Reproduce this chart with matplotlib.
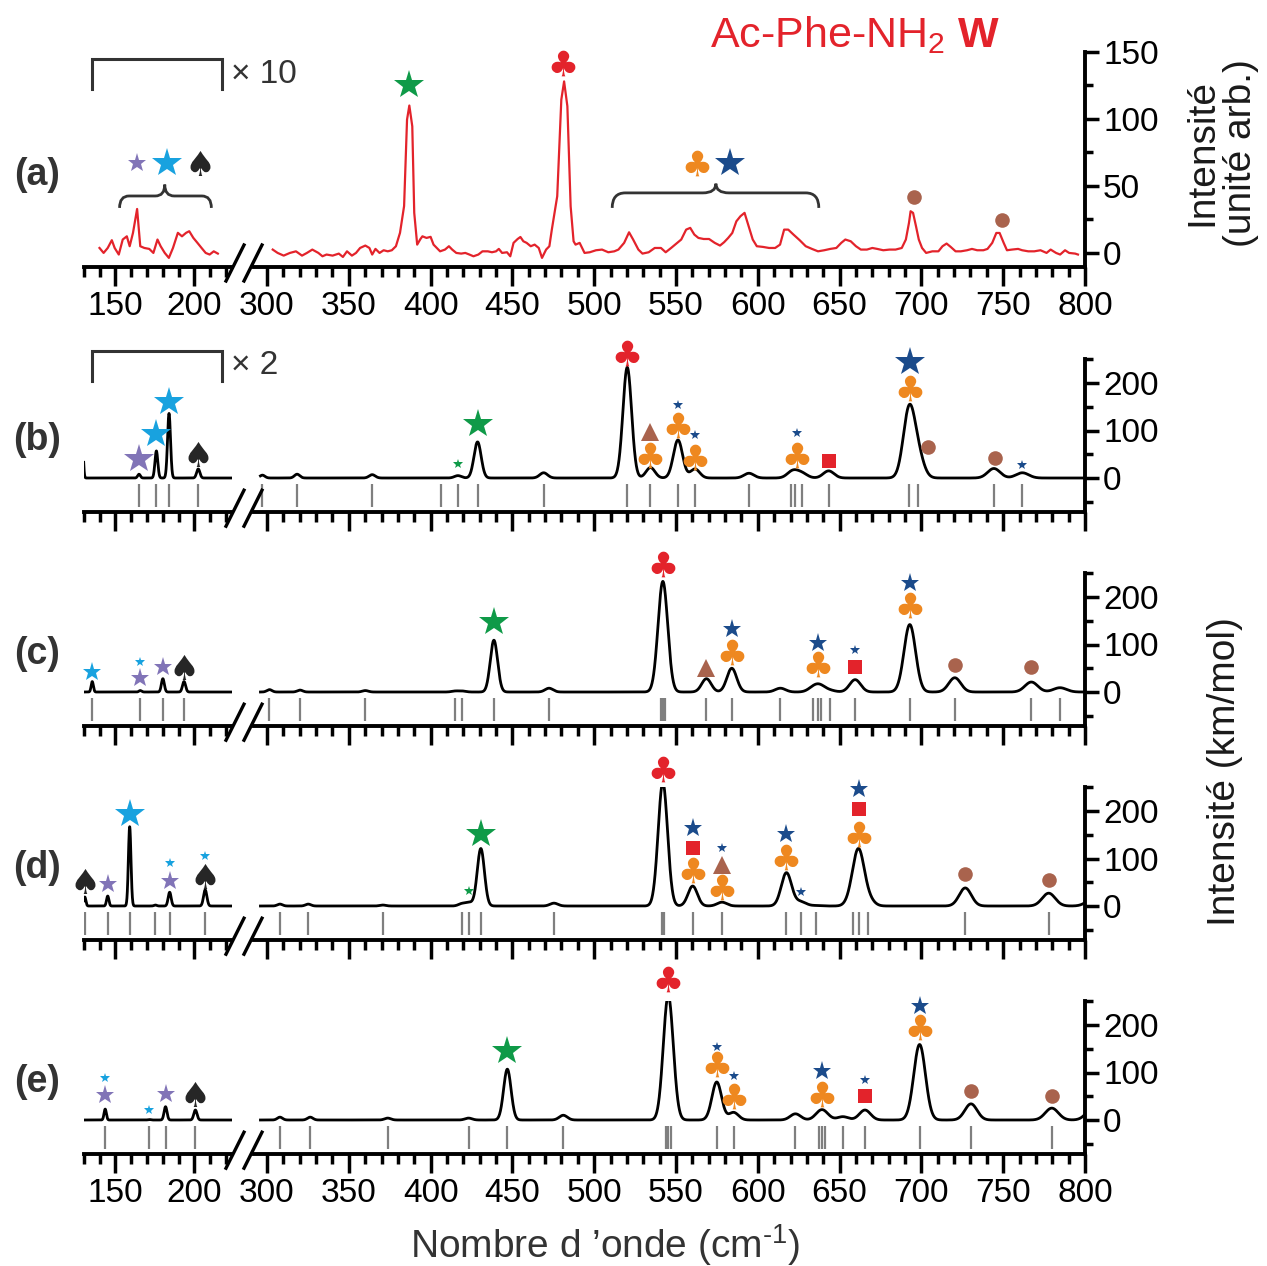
import numpy as np
import matplotlib
matplotlib.use("Agg")
import matplotlib.pyplot as plt
from matplotlib.textpath import TextPath
from matplotlib.font_manager import FontProperties
from matplotlib.path import Path
from matplotlib.patches import PathPatch
from matplotlib.lines import Line2D
from matplotlib.ticker import MultipleLocator

plt.rcParams['font.family'] = ['Liberation Sans', 'DejaVu Sans']
plt.rcParams['mathtext.fontset'] = 'custom'
plt.rcParams['mathtext.rm'] = 'Liberation Sans'
plt.rcParams['mathtext.it'] = 'Liberation Sans:italic'
plt.rcParams['mathtext.bf'] = 'Liberation Sans:bold'
plt.rcParams['mathtext.sf'] = 'Liberation Sans'
plt.rcParams['mathtext.default'] = 'regular'

# ---------------- data ----------------
# (a) experimental IR-UV spectrum (left part shown x10)
exp_left_x = [140.0, 142.6, 145.2, 147.8, 149.6, 152.2, 154.7, 157.3, 159.1, 161.2, 163.8,
              165.8, 168.4, 171.5, 174.1, 176.7, 178.7, 181.3, 183.9, 186.5, 189.6, 192.2,
              194.8, 196.8, 199.4, 202.0, 204.6, 207.2, 209.7, 212.3, 214.9]
exp_left_y = [3.7, 0, 3.7, 9.5, 3.7, -1.2, 10, 12.4, 5, 15, 32.8,
              5, 3.7, 3, 0, 10, 5, 0, -3.7, 3.7, 15, 12.4,
              15, 16.2, 11.2, 7.5, 3.7, 0, -1.2, 1.2, -0.5]
exp_right_x = [303.5, 306.5, 310.2, 314.0, 317.7, 321.4, 324.4, 327.7, 331.4, 333.9, 336.4,
               340.1, 343.9, 346.4, 348.9, 351.9, 354.4, 356.9, 360.1, 362.6, 364.3, 366.3,
               368.8, 371.3, 373.8, 376.3, 378.8, 381.3, 383.8, 385.6, 387.0, 388.8, 390.0,
               391.8, 393.8, 395.0, 397.5, 400.0, 401.8, 403.8, 405.8, 408.8, 411.2, 413.2,
               415.7, 418.7, 421.2, 423.7, 426.2, 429.2, 431.7, 435.0, 437.5, 440.0, 441.7,
               443.7, 446.7, 448.7, 450.7, 453.2, 454.9, 456.7, 458.7, 461.2, 463.6, 466.1,
               468.1, 470.6, 472.6, 474.1, 477.4, 479.9, 481.6, 483.6, 485.6, 487.4, 488.6,
               491.1, 494.1, 497.3, 501.1, 504.8, 508.6, 512.3, 514.8,
               518.3, 521.3, 523.8, 527.0, 529.5, 533.3, 537.0, 540.8, 543.7, 547.0, 550.7,
               553.2, 556.2, 558.7, 561.2, 563.7, 566.9, 570.2, 573.7, 576.9, 579.4, 581.9,
               584.4, 586.9, 589.4, 591.9, 594.4, 596.9, 599.4, 603.1, 606.9, 610.6, 613.6,
               616.1, 618.6, 621.8, 625.6, 629.3, 633.1, 636.8, 640.6, 644.3, 648.0, 651.0,
               653.5, 656.8, 660.0, 663.0, 666.7, 670.0, 673.0, 676.7, 680.5, 684.2, 688.0,
               690.5, 692.4, 693.4, 694.9, 696.7, 698.4, 700.4, 702.9, 706.7, 710.4, 712.9,
               715.4, 717.9, 720.9, 724.1, 727.9, 730.9, 734.1, 737.9, 740.4, 743.3, 745.8,
               747.8, 750.3, 752.3, 755.3, 759.1, 761.6, 765.3, 769.0, 772.8, 776.5, 779.0,
               782.3, 784.8, 787.8, 790.3, 794.0, 795.7]
exp_right_y = [2.5, 0, -2, 0, 1.2, -2, 0, 2.5, 0, -2.5, -1.2,
               -2, -0.5, -3, 1.2, -2, 0, 3.7, 5.5, 3.7, -1.2, 3,
               0, 2, 1.2, 2, 5, 15, 35, 99.5, 110, 94.5, 29.9,
               6.2, 10.4, 12.4, 11.2, 12, 6.2, 3.7, 1.2, 2.5, 5, 2.5,
               0, -0.5, 0, -1.2, -2.5, -1.2, 1.2, 1.2, 0.5, 1.2, 3,
               0, 0.5, -2.5, 7.5, 10.4, 11.9, 8.7, 7.5, 5, 6.2, 3.7,
               -3.7, 2.5, 5, 17.4, 42.3, 114.4, 128, 109.5, 34.8, 8.7, 6.2,
               7.5, 0, 0.5, 2, 2.5, 0.5, 1.2, 2.5,
               7.5, 15.4, 10, 2.5, -0.5, 0.5, 3.7, 3.7, 0.5, 3.7, 7.5,
               10, 17.4, 18.7, 13.7, 11.2, 10.4, 10.4, 7.5, 5.5, 8, 11.2,
               14.9, 23.6, 27.4, 29.9, 19.9, 10, 5, 4.5, 3.7, 3.7, 6.2,
               17.4, 17.4, 13.7, 9.5, 5, 3, 1.2, 2, 3, 3.7, 7.5,
               10, 8.7, 5, 2.5, 2.5, 3.7, 3, 2, 2.5, 2.5, 3.7,
               10, 22.4, 31.1, 29.9, 19.9, 10, 3.7, 0, 1.2, 1.2, 5,
               7, 4.5, 1.2, 1.2, 2, 3, 2, 2, 3, 7.5, 14.9,
               14.9, 7.5, 2, 2.5, 3, 2, 1.2, 1.2, 2, 0, 2.5,
               0, -1.2, 2, 0, -0.5, -1.2]
marks_a_x = [163.8, 182.6, 203.8, 387.0, 481.0, 562.7, 583.2, 695.4, 749.1]
marks_a_y = [67, 67, 67, 125.6, 142, 67, 67, 41.5, 24.9]
marks_a_sym = ['PM', 'CL', 'SP', 'GL', 'RC', 'OC', 'NL', 'CI', 'CI']

# (b)-(e) computed stick spectra (cm-1, km/mol as drawn)
sticks_b = [129.0, 165.0, 176.0, 184.0, 202.5, 297.2, 318.4, 364.3, 406.3, 416.7, 428.7, 469.1,
            520.2, 534.4, 551.2, 561.6, 594.6, 620.5, 622.5, 627.2, 643.3, 692.4, 697.9,
            744.3, 761.7]
heights_b = [105, 8, 57, 136, 19, 6, 8, 7, 0, 5, 76, 11,
             233, 22, 80, 19, 10, 8, 8, 9, 15, 140, 45,
             20, 11]
marks_b_x = [165.0, 176.0, 184.0, 202.5, 416.7, 428.7, 520.2, 534.4, 534.4, 551.2, 551.2,
             561.6, 561.6, 624.0, 624.0, 643.3, 693.0, 693.0, 704.0, 745.0, 761.5]
marks_b_y = [40, 93, 161, 50, 29, 114, 263, 97, 48, 154, 112,
             90, 45, 94, 48, 36, 245, 189, 66, 42, 27]
marks_b_sym = ['PL', 'CL', 'CL', 'SP', 'GS', 'GL', 'RC', 'TR', 'OC', 'NS', 'OC',
               'NS', 'OC', 'NS', 'OC', 'SQ', 'NL', 'OC', 'CI', 'CI', 'NS']

sticks_c = [135.4, 165.8, 180.1, 193.5, 301.5, 320.2, 360.1, 415.0, 419.4, 438.7, 472.4,
            540.7, 542.0, 543.2, 568.6, 584.1, 613.8, 633.6, 636.8, 638.8, 644.3, 659.5,
            692.9, 720.4, 767.2, 784.7]
heights_c = [22, 3, 28, 22, 5, 4, 3, 2, 2, 109, 8,
             83, 83, 83, 28, 50, 8, 7, 7, 7, 3, 26,
             142, 30, 21, 9]
marks_c_x = [135.4, 165.8, 165.8, 180.1, 193.5, 438.7, 542.0, 568.6, 584.1, 584.1, 636.5,
             636.5, 659.5, 659.5, 693.0, 693.0, 720.4, 767.2]
marks_c_y = [43, 64, 29, 53, 53, 148, 269, 51, 132, 84, 104,
             58, 88, 53, 230, 183, 56, 52]
marks_c_sym = ['CM', 'CS', 'PM', 'PM', 'SP', 'GL', 'RC', 'TR', 'NM', 'OC', 'NM',
               'OC', 'NS', 'SQ', 'NM', 'OC', 'CI', 'CI']

sticks_d = [130.7, 145.2, 159.1, 175.4, 184.4, 206.9, 307.9, 325.2, 370.8, 419.2, 423.7,
            430.7, 475.4, 541.2, 542.7, 560.2, 578.1, 617.5, 626.3, 635.5, 658.0, 661.7,
            667.5, 726.8, 777.8, 805.0]
heights_d = [19, 21, 167, 2, 29, 34, 4, 4, 2, 5, 7,
             121, 6, 135, 135, 42, 8, 70, 9, 1, 18, 108,
             14, 38, 27, 15]
marks_d_x = [130.7, 145.2, 159.1, 184.4, 184.4, 206.9, 206.9, 423.7, 430.7, 542.0, 560.2,
             560.2, 560.2, 578.1, 578.1, 578.1, 617.5, 617.5, 626.3, 661.7, 661.7, 661.7,
             726.8, 777.8]
marks_d_y = [53, 46, 193, 90, 53, 105, 63, 32, 151, 289, 164,
             122, 75, 122, 86, 40, 152, 103, 29, 246, 204, 152,
             68, 54]
marks_d_sym = ['SP', 'PM', 'CL', 'CS', 'PM', 'CS', 'SP', 'GS', 'GL', 'RC', 'NM',
               'SQ', 'OC', 'NS', 'TR', 'OC', 'NM', 'OC', 'NS', 'NM', 'SQ', 'OC',
               'CI', 'CI']

sticks_e = [143.6, 171.5, 181.8, 200.7, 307.9, 326.4, 373.8, 423.2, 446.9, 481.1,
            544.0, 545.2, 546.9, 574.9, 585.2, 623.0, 637.5, 639.2, 641.0, 652.0, 665.5,
            698.9, 730.3, 779.7, 805.0]
heights_e = [23, 1, 28, 21, 6, 6, 4, 4, 107, 10,
             99, 99, 88, 80, 16, 13, 8, 8, 8, 7, 21,
             159, 34, 25, 25]
marks_e_x = [143.6, 143.6, 171.5, 181.8, 200.7, 446.9, 545.0, 574.9, 574.9, 585.2, 585.2,
             639.2, 639.2, 665.5, 665.5, 698.9, 698.9, 730.3, 779.7]
marks_e_y = [88, 53, 22, 55, 55, 145, 297, 154, 118, 93, 51,
             104, 55, 84, 51, 239, 195, 62, 51]
marks_e_sym = ['CS', 'PM', 'CS', 'PM', 'SP', 'GL', 'RC', 'NS', 'OC', 'NS', 'OC',
               'NM', 'OC', 'NS', 'SQ', 'NM', 'OC', 'CI', 'CI']

# ---------------- style ----------------
RED = '#e3232b'
GREEN = '#0f9a48'
NAVY = '#1b4b8b'
CYAN = '#18a2df'
PURPLE = '#8174b7'
ORANGE = '#ee8820'
BLACK = '#262626'
BROWN = '#a9634d'
GRAY = '#7f7f7f'
DARK = '#333333'
FWHM_FRAC = 0.012


def glyph_path(ch):
    tp = TextPath((0, 0), ch, size=1, prop=FontProperties(family='DejaVu Sans'))
    codes = np.array(tp.codes)
    verts = np.array(tp.vertices, dtype=float)
    real = codes != Path.CLOSEPOLY
    x0, y0 = verts[real].min(axis=0)
    x1, y1 = verts[real].max(axis=0)
    verts = verts - np.array([(x0 + x1) / 2, (y0 + y1) / 2])
    verts[~real] = 0.0
    return Path(verts, codes)


CLUB = glyph_path('\u2663')
SPADE = glyph_path('\u2660')
SYM = {
    'GL': ('*', GREEN, 22), 'GS': ('*', GREEN, 7.5),
    'NL': ('*', NAVY, 22), 'NM': ('*', NAVY, 14), 'NS': ('*', NAVY, 7.5),
    'CL': ('*', CYAN, 22), 'CM': ('*', CYAN, 14), 'CS': ('*', CYAN, 7.5),
    'PL': ('*', PURPLE, 22), 'PM': ('*', PURPLE, 14),
    'RC': (CLUB, RED, 18.5), 'OC': (CLUB, ORANGE, 18.5), 'SP': (SPADE, BLACK, 18),
    'CI': ('o', BROWN, 10.5), 'TR': ('^', BROWN, 13.5), 'SQ': ('s', RED, 9.5),
}

W, H = 1267, 1266
fig = plt.figure(figsize=(W / 100, H / 100), dpi=100)

XL = (130, 224)
XR = (292, 800)
L0, L1 = 83.7, 83.7 + (XL[1] - XL[0]) * 1.58
R1 = 1085.0
R0 = R1 - (XR[1] - XR[0]) * 1.636


def add_ax(x0, x1, top, bottom):
    return fig.add_axes([x0 / W, 1 - bottom / H, (x1 - x0) / W, (bottom - top) / H])


def style_pair(axL, axR, ylim, show_labels):
    for ax, xl in ((axL, XL), (axR, XR)):
        ax.set_xlim(*xl)
        ax.set_ylim(*ylim)
        ax.patch.set_visible(False)
        for s in ('top', 'left', 'right'):
            ax.spines[s].set_visible(False)
        ax.spines['bottom'].set_linewidth(2.8)
        ax.xaxis.set_major_locator(MultipleLocator(50))
        ax.xaxis.set_minor_locator(MultipleLocator(10))
        ax.tick_params(axis='x', which='major', direction='out', length=14, width=2.5,
                       labelsize=24, pad=3, labelbottom=show_labels)
        ax.tick_params(axis='x', which='minor', direction='out', length=7, width=2.5)
    axL.tick_params(axis='y', which='both', left=False, right=False, labelleft=False)
    axR.spines['right'].set_visible(True)
    axR.spines['right'].set_linewidth(2.8)
    axR.yaxis.tick_right()
    axR.tick_params(axis='y', which='major', direction='out', length=10, width=2.5,
                    labelsize=24, pad=3)
    axR.tick_params(axis='y', which='minor', direction='out', length=6, width=2.5)


def draw_marks(axL, axR, xs, ys, syms):
    for x, y, s in zip(xs, ys, syms):
        m, c, ms = SYM[s]
        ax = axL if x < 260 else axR
        ax.plot([x], [y], ls='none', marker=m, ms=ms, color=c, mec='none', mew=0,
                clip_on=False, zorder=6)


def breaks(axis_px):
    for xb in (226, 244):
        fig.add_artist(Line2D([xb / W, (xb + 18) / W],
                              [1 - (axis_px + 14) / H, 1 - (axis_px - 22) / H],
                              transform=fig.transFigure, color='black', lw=2.4))


def spectrum(x, centers, heights):
    x = np.asarray(x)[:, None]
    c = np.asarray(centers)[None, :]
    w = FWHM_FRAC * c
    return (np.asarray(heights)[None, :] * np.exp(-4 * np.log(2) * ((x - c) / w) ** 2)).sum(axis=1)


def brace(ax, x0, x1, xc, y_end, y_arm, y_tip, rx):
    verts = [(x0, y_end), (x0, y_arm), (x0 + rx, y_arm), (xc - rx, y_arm), (xc, y_arm), (xc, y_tip),
             (xc, y_arm), (xc + rx, y_arm), (x1 - rx, y_arm), (x1, y_arm), (x1, y_end)]
    codes = [Path.MOVETO, Path.CURVE3, Path.CURVE3, Path.LINETO, Path.CURVE3, Path.CURVE3,
             Path.CURVE3, Path.CURVE3, Path.LINETO, Path.CURVE3, Path.CURVE3]
    ax.add_patch(PathPatch(Path(verts, codes), facecolor='none', edgecolor=DARK, lw=2.0,
                           clip_on=False))


def bracket(ax, x0, x1, y_low, y_top, text):
    ax.plot([x0, x0, x1, x1], [y_low, y_top, y_top, y_low], color=DARK, lw=2.2,
            clip_on=False, solid_joinstyle='miter')
    ax.text(x1 + 5.5, (y_low + y_top) / 2, text, fontsize=24, color=DARK,
            ha='left', va='center')


# ---------------- panel (a) ----------------
a_bottom = 267.0
a_ylim = (-10.5, 150)
a_top = a_bottom - (a_ylim[1] - a_ylim[0]) * 1.34
axL = add_ax(L0, L1, a_top, a_bottom)
axR = add_ax(R0, R1, a_top, a_bottom)
style_pair(axL, axR, a_ylim, True)
axR.yaxis.set_major_locator(MultipleLocator(50))
axR.yaxis.set_minor_locator(MultipleLocator(25))
axL.plot(exp_left_x, exp_left_y, color=RED, lw=1.6)
axR.plot(exp_right_x, exp_right_y, color=RED, lw=1.6)
draw_marks(axL, axR, marks_a_x, marks_a_y, marks_a_sym)
brace(axL, 152.7, 210.8, 181.3, 33.6, 42.5, 51.0, 6)
brace(axR, 511.0, 637.3, 574.4, 33.6, 44.8, 51.7, 8)
bracket(axL, 135.4, 217.5, 122, 144.5, '\u00d7 10')
breaks(a_bottom)

# ---------------- panels (b)-(e) ----------------
panel_defs = [
    ('(b)', 478.0, sticks_b, heights_b, marks_b_x, marks_b_y, marks_b_sym),
    ('(c)', 692.0, sticks_c, heights_c, marks_c_x, marks_c_y, marks_c_sym),
    ('(d)', 906.0, sticks_d, heights_d, marks_d_x, marks_d_y, marks_d_sym),
    ('(e)', 1120.0, sticks_e, heights_e, marks_e_x, marks_e_y, marks_e_sym),
]
ylim_calc = (-72, 250)
scale = 0.475
xgL = np.linspace(XL[0], XL[1], 1200)
xgR = np.linspace(296, XR[1], 4000)
for i, (lab, zero_px, st, hh, mx, my, ms) in enumerate(panel_defs):
    bottom = zero_px - ylim_calc[0] * scale
    top = bottom - (ylim_calc[1] - ylim_calc[0]) * scale
    axL = add_ax(L0, L1, top, bottom)
    axR = add_ax(R0, R1, top, bottom)
    style_pair(axL, axR, ylim_calc, lab == '(e)')
    axR.yaxis.set_major_locator(MultipleLocator(100))
    axR.yaxis.set_minor_locator(MultipleLocator(50))
    axL.plot(xgL, spectrum(xgL, st, hh), color='black', lw=2.0)
    axR.plot(xgR, spectrum(xgR, st, hh), color='black', lw=2.0)
    stl = [s for s in st if s < 260]
    str_ = [s for s in st if s >= 260]
    axL.vlines(stl, -60, -12, color=GRAY, lw=1.6)
    axR.vlines(str_, -60, -12, color=GRAY, lw=1.6)
    draw_marks(axL, axR, mx, my, ms)
    if lab == '(b)':
        bracket(axL, 135.4, 217.5, 205, 268, '\u00d7 2')
    breaks(bottom)
    fig.text(37 / W, 1 - (zero_px - 38) / H, lab, fontsize=27, fontweight='bold',
             color=DARK, ha='center', va='center')

fig.text(37 / W, 1 - 175 / H, '(a)', fontsize=27, fontweight='bold', color=DARK,
         ha='center', va='center')

# ---------------- texts ----------------
fig.text(855 / W, 1 - 35 / H, r'Ac-Phe-NH$_2$ $\mathbf{W}$', color=RED, fontsize=31,
         ha='center', va='center')
fig.text(1222 / W, 1 - 153 / H, 'Intensit\u00e9\n(unit\u00e9 arb.)', rotation=90,
         fontsize=28, ha='center', va='center', multialignment='center', linespacing=1.1,
         color='#1a1a1a')
fig.text(1225 / W, 1 - 772 / H, 'Intensit\u00e9 (km/mol)', rotation=90, fontsize=28,
         ha='center', va='center', color='#1a1a1a')
fig.text(605 / W, 1 - 1245 / H, "Nombre d \u2019onde (cm$^{\\text{-}1}$)", fontsize=28,
         ha='center', va='center', color=DARK)

fig.savefig('out.png', dpi=100)
